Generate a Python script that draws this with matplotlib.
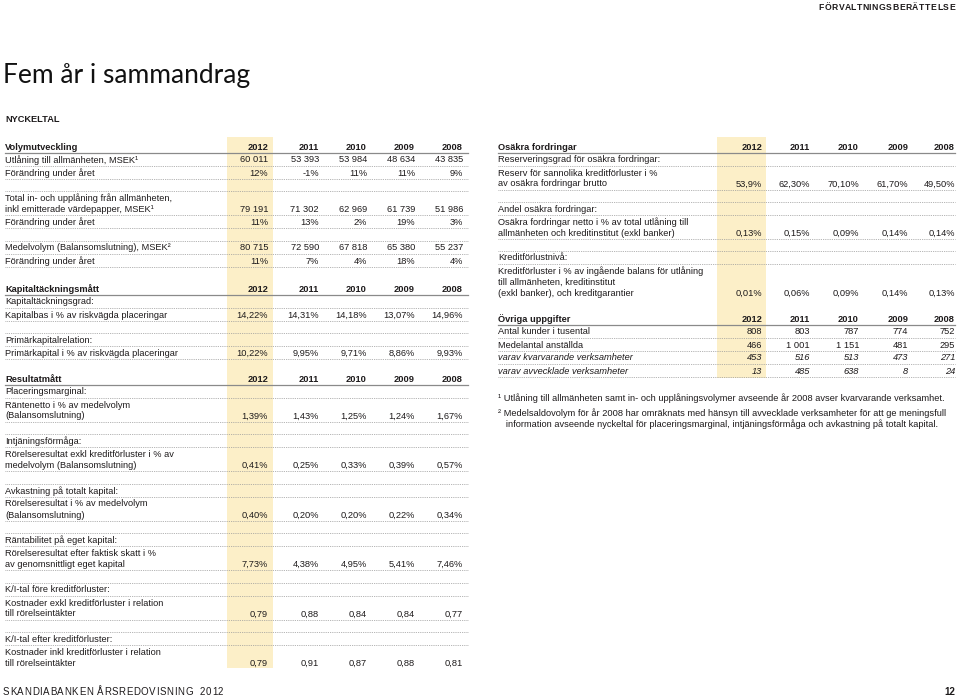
import matplotlib
matplotlib.use('Agg')
import matplotlib.pyplot as plt
from matplotlib.patches import Rectangle
from matplotlib.font_manager import FontProperties
from matplotlib.textpath import text_to_path

# table data (cells as printed in the report)
years = ['2012', '2011', '2010', '2009', '2008']

utlaning = ['60 011', '53 393', '53 984', '48 634', '43 835']
utlaning_chg = ['12%', '-1%', '11%', '11%', '9%']
upplaning = ['79 191', '71 302', '62 969', '61 739', '51 986']
upplaning_chg = ['11%', '13%', '2%', '19%', '3%']
medelvolym = ['80 715', '72 590', '67 818', '65 380', '55 237']
medelvolym_chg = ['11%', '7%', '4%', '18%', '4%']

kapitalbas = ['14,22%', '14,31%', '14,18%', '13,07%', '14,96%']
primarkapital = ['10,22%', '9,95%', '9,71%', '8,86%', '9,93%']

rantenetto = ['1,39%', '1,43%', '1,25%', '1,24%', '1,67%']
intjaning = ['0,41%', '0,25%', '0,33%', '0,39%', '0,57%']
avkastning = ['0,40%', '0,20%', '0,20%', '0,22%', '0,34%']
rantabilitet = ['7,73%', '4,38%', '4,95%', '5,41%', '7,46%']
ki_fore = ['0,79', '0,88', '0,84', '0,84', '0,77']
ki_efter = ['0,79', '0,91', '0,87', '0,88', '0,81']

reservering = ['53,9%', '62,30%', '70,10%', '61,70%', '49,50%']
andel_osakra = ['0,13%', '0,15%', '0,09%', '0,14%', '0,14%']
kreditforlust = ['0,01%', '0,06%', '0,09%', '0,14%', '0,13%']

kunder = ['808', '803', '787', '774', '752']
anstallda = ['466', '1 001', '1 151', '481', '295']
kvarvarande = ['453', '516', '513', '473', '271']
avvecklade = ['13', '485', '638', '8', '24']

footnotes = [
    '¹ Utlåning till allmänheten samt in- och upplåningsvolymer avseende år 2008 avser kvarvarande verksamhet.',
    '² Medelsaldovolym för år 2008 har omräknats med hänsyn till avvecklade verksamheter för att ge meningsfull',
    '   information avseende nyckeltal för placeringsmarginal, intjäningsförmåga och avkastning på totalt kapital.',
]

FONT = 'Liberation Sans'
INK = '#1e1b1c'
SIZE = 6.65
HIGHLIGHT = '#fcefc8'

plt.rcParams['font.family'] = FONT

fig = plt.figure(figsize=(9.6, 7), dpi=100)
ax = fig.add_axes([0, 0, 1, 1])
ax.set_xlim(0, 960)
ax.set_ylim(700, 0)
ax.axis('off')


def txt(x, y, s, **kw):
    kw.setdefault('fontsize', SIZE)
    kw.setdefault('color', INK)
    ax.text(x, y, s, va='center_baseline', **kw)


def dotted(x0, x1, y):
    ax.plot([x0, x1], [y, y], color='#9a9a9a', lw=0.6, linestyle=(0, (1, 1.2)))


def draw_table(x0, x1, cols, y, title, blocks, gap=25.5, row=13, cont=11, last_rule=True):
    txt(x0, y, title, fontweight='bold')
    for c, yr in zip(cols, years):
        txt(c, y, yr, ha='right', fontweight='bold')
    ax.plot([x0, x1], [y + 6.5, y + 6.5], color='#8a8a8a', lw=0.9)
    y += row
    for bi, block in enumerate(blocks):
        if bi > 0:
            y += gap - row
            dotted(x0, x1, y - 6.5)
        for ri, (label, vals, italic) in enumerate(block):
            lines = label.split('\n')
            style = 'italic' if italic else 'normal'
            for li, ln in enumerate(lines):
                txt(x0, y + li * cont, ln, style=style)
            ylast = y + (len(lines) - 1) * cont
            if vals:
                for c, v in zip(cols, vals):
                    txt(c, ylast, v, ha='right', style=style)
            if last_rule or bi < len(blocks) - 1 or ri < len(block) - 1:
                dotted(x0, x1, ylast + 6.5)
            y = ylast + row


def spaced_text(x, y, s, size, track, ha='left', weight='normal'):
    # letter-spaced text, glyph advances taken from the unhinted outlines
    prop = FontProperties(family=FONT, size=size, weight=weight)
    px = 100 / 72

    def width(t):
        if not t:
            return 0.0
        w_pad = text_to_path.get_text_width_height_descent(t + 'I', prop, ismath=False)[0]
        w_i = text_to_path.get_text_width_height_descent('I', prop, ismath=False)[0]
        return (w_pad - w_i) * px

    total = width(s) + track * (len(s) - 1)
    if ha == 'right':
        x -= total
    for i, ch in enumerate(s):
        if ch != ' ':
            ax.text(x + width(s[:i]) + track * i, y, ch, fontsize=size,
                    fontweight=weight, va='center_baseline', color=INK)


# yellow band behind the 2012 column
ax.add_patch(Rectangle((227, 137), 46, 531, color=HIGHLIGHT, zorder=0, lw=0))
ax.add_patch(Rectangle((717, 137), 49, 241, color=HIGHLIGHT, zorder=0, lw=0))

# page header / title
spaced_text(955, 6, 'FÖRVALTNINGSBERÄTTELSE', 6.2, 0.6, ha='right', weight='bold')
ax.text(3, 73, 'Fem år i sammandrag', fontsize=19, family='Lato',
        color='#111111', va='center_baseline')
txt(5, 118, 'NYCKELTAL', fontweight='bold')

left_x0, left_x1 = 5, 468
left_cols = [268, 319, 367, 415, 463]

draw_table(left_x0, left_x1, left_cols, 146, 'Volymutveckling', [
    [('Utlåning till allmänheten, MSEK¹', utlaning, False),
     ('Förändring under året', utlaning_chg, False)],
    [('Total in- och upplåning från allmänheten,\ninkl emitterade värdepapper, MSEK¹', upplaning, False),
     ('Förändring under året', upplaning_chg, False)],
    [('Medelvolym (Balansomslutning), MSEK²', medelvolym, False),
     ('Förändring under året', medelvolym_chg, False)],
])

draw_table(left_x0, left_x1, left_cols, 288, 'Kapitaltäckningsmått', [
    [('Kapitaltäckningsgrad:', None, False),
     ('Kapitalbas i % av riskvägda placeringar', kapitalbas, False)],
    [('Primärkapitalrelation:', None, False),
     ('Primärkapital i % av riskvägda placeringar', primarkapital, False)],
])

draw_table(left_x0, left_x1, left_cols, 378, 'Resultatmått', [
    [('Placeringsmarginal:', None, False),
     ('Räntenetto i % av medelvolym\n(Balansomslutning)', rantenetto, False)],
    [('Intjäningsförmåga:', None, False),
     ('Rörelseresultat exkl kreditförluster i % av\nmedelvolym (Balansomslutning)', intjaning, False)],
    [('Avkastning på totalt kapital:', None, False),
     ('Rörelseresultat i % av medelvolym\n(Balansomslutning)', avkastning, False)],
    [('Räntabilitet på eget kapital:', None, False),
     ('Rörelseresultat efter faktisk skatt i %\nav genomsnittligt eget kapital', rantabilitet, False)],
    [('K/I-tal före kreditförluster:', None, False),
     ('Kostnader exkl kreditförluster i relation\ntill rörelseintäkter', ki_fore, False)],
    [('K/I-tal efter kreditförluster:', None, False),
     ('Kostnader inkl kreditförluster i relation\ntill rörelseintäkter', ki_efter, False)],
], last_rule=False)

right_x0, right_x1 = 498, 955
right_cols = [762, 810, 859, 908, 955]

draw_table(right_x0, right_x1, right_cols, 146, 'Osäkra fordringar', [
    [('Reserveringsgrad för osäkra fordringar:', None, False),
     ('Reserv för sannolika kreditförluster i %\nav osäkra fordringar brutto', reservering, False)],
    [('Andel osäkra fordringar:', None, False),
     ('Osäkra fordringar netto i % av total utlåning till\nallmänheten och kreditinstitut (exkl banker)', andel_osakra, False)],
    [('Kreditförlustnivå:', None, False),
     ('Kreditförluster i % av ingående balans för utlåning\ntill allmänheten, kreditinstitut\n(exkl banker), och kreditgarantier', kreditforlust, False)],
], gap=25, last_rule=False)

draw_table(right_x0, right_x1, right_cols, 318, 'Övriga uppgifter', [
    [('Antal kunder i tusental', kunder, False),
     ('Medelantal anställda', anstallda, False),
     ('varav kvarvarande verksamheter', kvarvarande, True),
     ('varav avvecklade verksamheter', avvecklade, True)],
])

for yy, note in zip([397, 412, 423], footnotes):
    txt(498, yy, note)

# footer
spaced_text(3, 691, 'SKANDIABANKEN ÅRSREDOVISNING  2012', 7, 0.6)
txt(955, 691, '12', ha='right', fontweight='bold', fontsize=7)

fig.savefig('out.png', dpi=100)
